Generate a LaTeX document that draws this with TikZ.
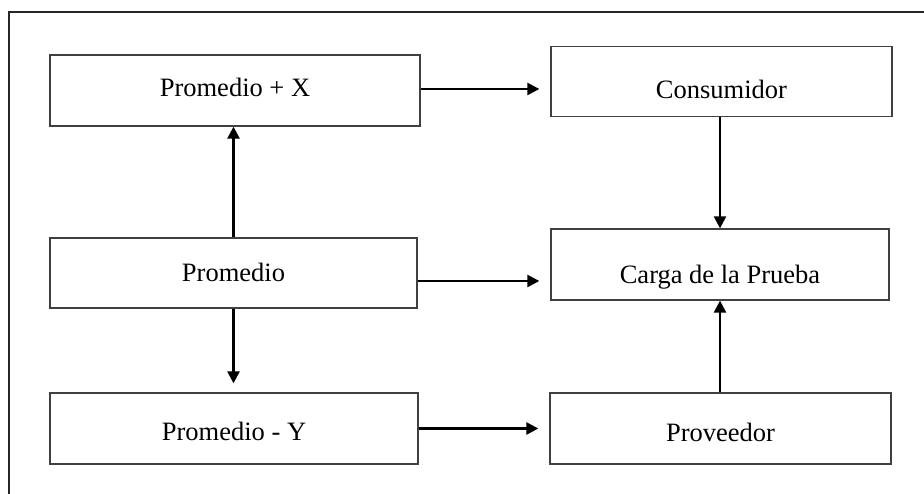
\documentclass[tikz,border=0pt]{standalone}
\usepackage{fontspec}
\setmainfont{Liberation Serif}
\usetikzlibrary{arrows.meta}
\tikzset{
  boxnode/.style={draw=black!75, line width=1.3pt, rectangle, inner sep=0pt,
    text height=0pt, text depth=0pt, font=\fontsize{26.5}{30}\selectfont},
  conn/.style={line width=2.4pt, -{Triangle[length=12pt,width=12pt]}},
  frameline/.style={line width=1.3pt, draw=black!85}
}
\newcommand{\lowtext}[2]{\raisebox{-#1}{#2}}
\begin{document}
\begin{tikzpicture}[x=1pt,y=-1pt]
\useasboundingbox (0,0) rectangle (924,494);
\clip (0,0) rectangle (924,494);
\coordinate (ftl) at (9,12);
\coordinate (ftr) at (930,12);
\coordinate (fbl) at (9,500);
\draw[frameline] (ftr) -- (ftl) -- (fbl);

\node[boxnode, minimum width=370pt, minimum height=71pt] (px) at (235,90.5) {\lowtext{6.5pt}{Promedio + X}};
\node[boxnode, minimum width=341pt, minimum height=70pt] (cons) at (721.5,81.5) {\lowtext{17.5pt}{Consumidor}};
\node[boxnode, minimum width=367pt, minimum height=70pt] (prom) at (233.5,273) {\lowtext{9pt}{Promedio}};
\node[boxnode, minimum width=338pt, minimum height=71pt] (carga) at (720,264.5) {\lowtext{19.5pt}{Carga de la Prueba}};
\node[boxnode, minimum width=368pt, minimum height=71pt] (py) at (234,428.5) {\lowtext{11.5pt}{Promedio - Y}};
\node[boxnode, minimum width=341pt, minimum height=71pt] (prov) at (720.5,428.5) {\lowtext{12.5pt}{Proveedor}};

\draw[conn, shorten >=11pt] ([yshift=1.5pt]px.east) -- ([yshift=1.5pt]px.east -| cons.west);
\draw[conn, shorten >=11pt] ([yshift=-8pt]prom.east) -- ([yshift=-8pt]prom.east -| carga.west);
\draw[conn, shorten >=11pt] (py.east) -- (py.east -| prov.west);
\draw[conn] (prom.north) -- (prom.north |- px.south);
\draw[conn, shorten >=9pt] (prom.south) -- (prom.south |- py.north);
\draw[conn] (carga.north |- cons.south) -- (carga.north);
\draw[conn] (carga.south |- prov.north) -- (carga.south);
\end{tikzpicture}
\end{document}
